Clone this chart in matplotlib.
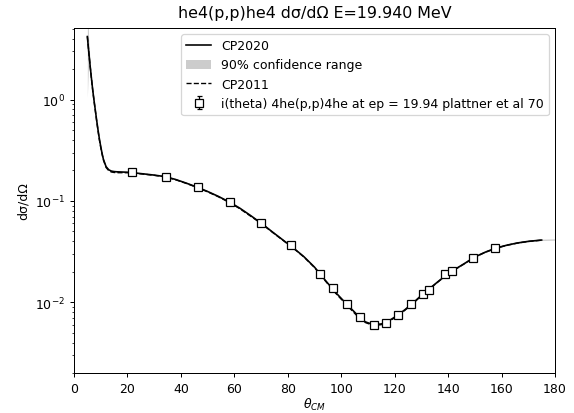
import matplotlib
matplotlib.use("Agg")
import matplotlib.pyplot as plt
import numpy as np

# theory curves (theta in degrees, cross section)
theta = [5.0, 5.5, 6.0, 6.5, 7.0, 7.5, 8.0, 8.5, 9.0, 9.5, 10.0, 10.5, 11.0, 12.0,
         13.0, 14.0, 15.0, 16.0, 18.0, 20.0, 22.0, 26.0, 30.0, 34.0, 38.0, 42.0,
         46.0, 50.0, 54.0, 58.0, 62.0, 66.0, 70.0, 74.0, 78.0, 82.0, 86.0, 90.0,
         94.0, 98.0, 102.0, 106.0, 109.0, 112.0, 115.0, 118.0, 121.0, 124.0,
         127.0, 130.0, 133.0, 136.0, 139.0, 142.0, 146.0, 150.0, 154.0, 158.0,
         162.0, 166.0, 170.0, 175.0, 178.0, 180.0]
cp2020 = [4.2, 3.0, 2.2, 1.65, 1.25, 0.98, 0.78, 0.62, 0.50, 0.41, 0.345, 0.295,
          0.258, 0.218, 0.203, 0.197, 0.195, 0.194, 0.193, 0.192, 0.190, 0.185,
          0.180, 0.174, 0.163, 0.150, 0.137, 0.124, 0.111, 0.098, 0.085, 0.072,
          0.0605, 0.050, 0.0415, 0.0345, 0.0282, 0.0222, 0.0165, 0.0124, 0.0096,
          0.0075, 0.0064, 0.0060, 0.0061, 0.0066, 0.0074, 0.0085, 0.0099, 0.0117,
          0.0136, 0.0158, 0.0183, 0.0207, 0.0240, 0.0280, 0.0313, 0.0343, 0.0366,
          0.0385, 0.0399, 0.0411, 0.0413, 0.0414]
cp2011 = [4.2, 3.0, 2.2, 1.64, 1.24, 0.97, 0.77, 0.61, 0.49, 0.40, 0.338, 0.290,
          0.254, 0.214, 0.199, 0.193, 0.191, 0.190, 0.190, 0.190, 0.189, 0.184,
          0.179, 0.173, 0.162, 0.149, 0.136, 0.123, 0.110, 0.097, 0.084, 0.071,
          0.0600, 0.0496, 0.0412, 0.0343, 0.0280, 0.0220, 0.0163, 0.0122, 0.0094,
          0.0073, 0.0063, 0.0059, 0.0060, 0.0065, 0.0073, 0.0084, 0.0098, 0.0116,
          0.0135, 0.0157, 0.0182, 0.0206, 0.0239, 0.0279, 0.0312, 0.0342, 0.0365,
          0.0384, 0.0398, 0.0410, 0.0412, 0.0413]
# relative half width of the 90% band
band_rel = [1.5, 0.3, 0.1] + [0.02] * 61
line_end = 175.6

# plattner et al 70, 19.94 MeV
data_theta = [21.8, 34.3, 46.4, 58.4, 69.9, 81.1, 92.1, 96.8, 102.3, 107.0, 112.3,
              116.8, 121.4, 126.0, 130.5, 132.9, 139.0, 141.4, 149.4, 157.6]
data_xs = [0.191, 0.174, 0.1367, 0.0977, 0.0606, 0.0367, 0.0192, 0.0137, 0.00955,
           0.00717, 0.00592, 0.00625, 0.00743, 0.00955, 0.0121, 0.01315, 0.0189,
           0.0205, 0.0276, 0.034]
data_err = [0.03 * v for v in data_xs]

th = np.array(theta)
c20 = np.array(cp2020)
rel = np.array(band_rel)
m = th <= line_end

fig = plt.figure(figsize=(574 / 90, 414 / 90), dpi=90)
ax = fig.add_axes([74 / 574, 1 - 374 / 414, 481 / 574, 345 / 414])

ax.fill_between(th, c20 * (1 - rel * 0.5), c20 * (1 + rel), color='0.8',
                lw=0, label='90% confidence range', zorder=1)
ax.plot(th[m], c20[m], 'k-', lw=1.3, label='CP2020', zorder=3)
ax.plot(th[m], np.array(cp2011)[m], 'k--', lw=1.1, label='CP2011', zorder=2)
ax.errorbar(data_theta, data_xs, yerr=data_err, fmt='s', mfc='white', mec='black',
            ms=6, ecolor='black', elinewidth=1, capsize=2, zorder=4,
            label='i(theta) 4he(p,p)4he at ep = 19.94 plattner et al 70')

ax.set_yscale('log')
ax.set_xlim(0, 180)
ax.set_ylim(0.002, 5.1)
ax.set_xlabel(r'$\theta_{CM}$', labelpad=1)
ax.set_ylabel('dσ/dΩ')
ax.set_title('he4(p,p)he4 dσ/dΩ E=19.940 MeV', fontsize=12.7, pad=9)

h, l = ax.get_legend_handles_labels()
order = [l.index('CP2020'), l.index('90% confidence range'), l.index('CP2011'),
         len(l) - 1]
ax.legend([h[i] for i in order], [l[i] for i in order], loc='upper right')

fig.savefig('out.png', dpi=90)
